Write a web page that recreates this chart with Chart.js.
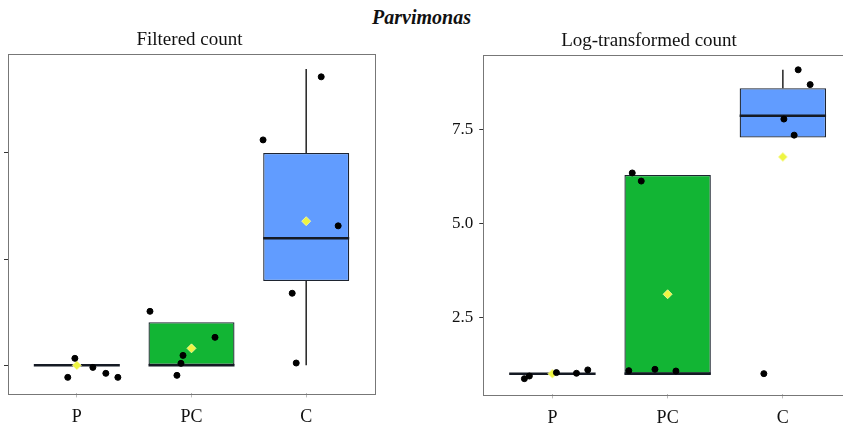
<!DOCTYPE html>
<html lang="en">
<head>
<meta charset="UTF-8">
<title>Parvimonas</title>
<script src="https://cdn.jsdelivr.net/npm/chart.js"></script>
<style>
    html, body {
        margin: 0;
        padding: 0;
        width: 843px;
        height: 428px;
        overflow: hidden;
        background: #fff;
    }
    #title {
        position: absolute;
        left: 0;
        top: 6px;
        width: 843px;
        text-align: center;
        font-family: 'Liberation Serif', serif;
        font-weight: bold;
        font-style: italic;
        font-size: 20px;
        color: #111;
    }
    .panel {
        position: absolute;
        top: 0;
        height: 440px;
    }
    #leftWrap { left: 0; width: 420px; }
    #rightWrap { left: 434px; width: 430px; }
</style>
</head>
<body>
<div id="title">Parvimonas</div>
<div class="panel" id="leftWrap"><canvas id="filteredChart"></canvas></div>
<div class="panel" id="rightWrap"><canvas id="logChart"></canvas></div>

<script>
    const groups = ['P', 'PC', 'C'];

    // Filtered count panel
    const filtTicks = [0, 1000, 2000];
    const filtQ1 = [0, 0, 795];
    const filtMed = [0, 0, 1198];
    const filtQ3 = [0, 406, 2000];
    const filtWhiskLo = [null, null, 0];
    const filtWhiskHi = [null, null, 2792];
    const filtMean = [0, 160, 1358];
    const filtPtsX = [0.983, 0.921, 1.14, 1.253, 1.358, 1.638, 2.205, 1.926, 1.908, 1.873, 2.624, 3.131, 3.279, 2.878, 2.913];
    const filtPtsY = [66, -113, -19, -75, -113, 509, 264, 94, 19, -94, 2123, 2717, 1314, 679, 22];

    // Log-transformed count panel
    const logTicks = [2.5, 5.0, 7.5];
    const logQ1 = [1.0, 1.0, 7.296];
    const logMed = [1.0, 1.0, 7.875];
    const logQ3 = [1.0, 6.295, 8.609];
    const logWhiskLo = [null, null, null];
    const logWhiskHi = [null, null, 9.1];
    const logMean = [1.0, 3.117, 6.777];
    const logPtsX = [0.757, 0.8, 1.035, 1.209, 1.307, 1.693, 1.771, 1.663, 1.89, 2.072, 3.133, 3.237, 3.009, 3.098, 2.835];
    const logPtsY = [0.867, 0.937, 1.028, 1.01, 1.10, 6.35, 6.134, 1.08, 1.116, 1.07, 9.1, 8.705, 7.787, 7.358, 1.0];

    const boxColors = ['#1a1a1a', '#12B534', '#619CFF'];
    const HALF = 0.375; // half of ggplot's default box width
    const serif = "'Liberation Serif', serif";

    // draws the panel border round the plot area
    const panelBorder = {
        id: 'panelBorder',
        afterDraw(chart) {
            const a = chart.chartArea;
            const ctx = chart.ctx;
            ctx.save();
            ctx.strokeStyle = '#777';
            ctx.lineWidth = 1;
            ctx.strokeRect(Math.round(a.left) + 0.5, Math.round(a.top) + 0.5,
                Math.round(a.right - a.left), Math.round(a.bottom - a.top));
            ctx.restore();
        }
    };

    function makeBoxChart(id, cfg) {
        const whiskers = [];
        const medians = [];
        groups.forEach((g, i) => {
            const x = i + 1;
            if (cfg.lo[i] !== null) {
                whiskers.push({x: x, y: cfg.lo[i]}, {x: x, y: cfg.q1[i]}, {x: x + 0.5, y: null});
            }
            if (cfg.hi[i] !== null) {
                whiskers.push({x: x, y: cfg.q3[i]}, {x: x, y: cfg.hi[i]}, {x: x + 0.5, y: null});
            }
            medians.push({x: x - HALF, y: cfg.med[i]}, {x: x + HALF, y: cfg.med[i]}, {x: x + 0.5, y: null});
        });

        new Chart(document.getElementById(id), {
            type: 'bar',
            data: {
                datasets: [
                    {
                        type: 'scatter',
                        label: 'points',
                        data: cfg.px.map((x, i) => ({x: x, y: cfg.py[i]})),
                        backgroundColor: '#000',
                        borderColor: '#000',
                        pointRadius: 3,
                        order: 0
                    },
                    {
                        type: 'scatter',
                        label: 'mean',
                        data: cfg.mean.map((m, i) => ({x: i + 1, y: m})),
                        backgroundColor: '#EEF542',
                        borderColor: 'rgba(250,250,170,0.8)',
                        borderWidth: 1,
                        pointStyle: 'rectRot',
                        pointRadius: 4.5,
                        order: 1
                    },
                    {
                        type: 'line',
                        label: 'median',
                        data: medians,
                        borderColor: '#151a24',
                        borderWidth: 2.5,
                        pointRadius: 0,
                        spanGaps: false,
                        order: 2
                    },
                    {
                        label: 'box',
                        data: groups.map((g, i) => ({x: i + 1, y: [cfg.q1[i], cfg.q3[i]]})),
                        backgroundColor: boxColors,
                        borderColor: '#1e2430',
                        borderWidth: 1.3,
                        borderSkipped: false,
                        categoryPercentage: 1,
                        barPercentage: 0.75,
                        grouped: false,
                        order: 3
                    },
                    {
                        type: 'line',
                        label: 'whisker',
                        data: whiskers,
                        borderColor: '#222',
                        borderWidth: 1.5,
                        pointRadius: 0,
                        spanGaps: false,
                        order: 4
                    }
                ]
            },
            options: {
                responsive: false,
                animation: false,
                layout: {padding: cfg.padding},
                plugins: {
                    legend: {display: false},
                    tooltip: {enabled: false},
                    title: {
                        display: true,
                        text: cfg.title,
                        color: '#111',
                        font: {family: serif, size: 19, weight: 'normal'},
                        padding: {top: 0, bottom: 2}
                    }
                },
                scales: {
                    x: {
                        type: 'linear',
                        offset: false,
                        min: 0.4,
                        max: 3.6,
                        afterBuildTicks: (scale) => {
                            scale.ticks = groups.map((g, i) => ({value: i + 1}));
                        },
                        ticks: {
                            callback: (v, i) => groups[i],
                            color: '#111',
                            font: {family: serif, size: 18},
                            padding: 9,
                            maxRotation: 0
                        },
                        grid: {drawOnChartArea: false, offset: false, tickLength: 4, color: '#bbb'},
                        border: {display: false}
                    },
                    y: {
                        min: cfg.yMin,
                        max: cfg.yMax,
                        afterBuildTicks: (scale) => {
                            scale.ticks = cfg.ticks.map(v => ({value: v}));
                        },
                        ticks: {
                            callback: cfg.tickFmt,
                            color: '#111',
                            font: {family: serif, size: 17},
                            padding: cfg.tickPad
                        },
                        grid: {drawOnChartArea: false, tickLength: 4, color: '#333'},
                        border: {display: false}
                    }
                }
            },
            plugins: [panelBorder]
        });
    }

    const lc = document.getElementById('filteredChart');
    lc.width = 420; lc.height = 440;
    const rc = document.getElementById('logChart');
    rc.width = 430; rc.height = 440;

    makeBoxChart('filteredChart', {
        title: 'Filtered count',
        ticks: filtTicks,
        q1: filtQ1, med: filtMed, q3: filtQ3, lo: filtWhiskLo, hi: filtWhiskHi,
        mean: filtMean, px: filtPtsX, py: filtPtsY,
        yMin: -264, yMax: 2934,
        tickFmt: () => '',
        tickPad: 0,
        padding: {left: 4, right: 45, top: 29, bottom: 3}
    });

    makeBoxChart('logChart', {
        title: 'Log-transformed count',
        ticks: logTicks,
        q1: logQ1, med: logMed, q3: logQ3, lo: logWhiskLo, hi: logWhiskHi,
        mean: logMean, px: logPtsX, py: logPtsY,
        yMin: 0.447, yMax: 9.5,
        tickFmt: (v) => v.toFixed(1),
        tickPad: 6,
        padding: {left: 12, right: 12, top: 30, bottom: 2}
    });
</script>
</body>
</html>
